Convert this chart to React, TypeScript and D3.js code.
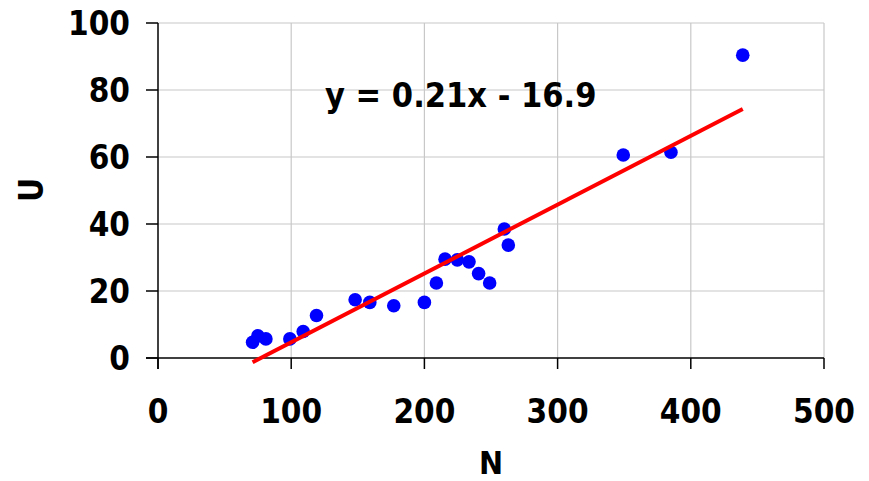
import React from 'react';
import * as d3 from 'd3';

const nValues = [71, 75, 81, 99, 109, 119, 148, 159, 177, 200, 209, 215.5, 224.7, 233.5, 240.7, 249, 260, 263, 349.3, 385.1, 439];
const uValues = [4.7, 6.6, 5.7, 5.7, 7.9, 12.7, 17.4, 16.6, 15.6, 16.6, 22.4, 29.5, 29.3, 28.7, 25.2, 22.4, 38.5, 33.7, 60.6, 61.4, 90.4];
const xTicks = [0, 100, 200, 300, 400, 500];
const yTicks = [0, 20, 40, 60, 80, 100];
const equation = 'y = 0.21x - 16.9';

const W = 869;
const H = 481;
const font = '"DejaVu Sans Condensed", "DejaVu Sans", sans-serif';

const App = () => {
    const x = d3.scaleLinear().domain([0, 500]).range([158, 824]);
    const y = d3.scaleLinear().domain([0, 100]).range([358, 23]);

    // least squares trend line
    const mx = d3.mean(nValues) as number;
    const my = d3.mean(uValues) as number;
    const sxy = d3.sum(nValues, (n, i) => (n - mx) * (uValues[i] - my));
    const sxx = d3.sum(nValues, (n) => (n - mx) * (n - mx));
    const slope = sxy / sxx;
    const icpt = my - slope * mx;
    const [n0, n1] = d3.extent(nValues) as [number, number];
    const line = d3.line<number>().x((n) => x(n)).y((n) => y(slope * n + icpt));

    return (
        <svg width={W} height={H} style={{ position: 'absolute', left: 0, top: 0 }}>
            <rect width={W} height={H} fill="#fff" />
            <g>
                {xTicks.slice(1).map((t) => (
                    <line key={'gx' + t} x1={x(t)} x2={x(t)} y1={y(0)} y2={y(100)} stroke="#c8c8c8" strokeWidth={1.2} />
                ))}
                {yTicks.slice(1).map((t) => (
                    <line key={'gy' + t} x1={x(0)} x2={x(500)} y1={y(t)} y2={y(t)} stroke="#c8c8c8" strokeWidth={1.2} />
                ))}
            </g>
            <line x1={x(0)} x2={x(0)} y1={y(100)} y2={y(0) + 11} stroke="#000" strokeWidth={1.5} />
            <line x1={x(0) - 12} x2={x(500)} y1={y(0)} y2={y(0)} stroke="#000" strokeWidth={1.5} />
            {yTicks.map((t) => (
                <g key={'ty' + t}>
                    <line x1={x(0) - 12} x2={x(0)} y1={y(t)} y2={y(t)} stroke="#000" strokeWidth={1.5} />
                    <text x={130} y={y(t)} dy="0.36em" textAnchor="end" fontFamily={font} fontWeight="bold" fontSize={33}>{t}</text>
                </g>
            ))}
            {xTicks.map((t) => (
                <g key={'tx' + t}>
                    <line x1={x(t)} x2={x(t)} y1={y(0)} y2={y(0) + 11} stroke="#000" strokeWidth={1.5} />
                    <text x={x(t)} y={423} textAnchor="middle" fontFamily={font} fontWeight="bold" fontSize={33}>{t}</text>
                </g>
            ))}
            {nValues.map((n, i) => (
                <circle key={'p' + i} cx={x(n)} cy={y(uValues[i])} r={6.8} fill="#0000ff" />
            ))}
            <path d={line([n0, n1]) as string} stroke="#ff0000" strokeWidth={4} fill="none" />
            <text x={325} y={107} fontFamily={font} fontWeight="bold" fontSize={34}>{equation}</text>
            <text x={x(250)} y={474} textAnchor="middle" fontFamily={font} fontWeight="bold" fontSize={32}>N</text>
            <text transform={`translate(43,190) rotate(-90)`} textAnchor="middle" fontFamily={font} fontWeight="bold" fontSize={33}>U</text>
        </svg>
    );
};

export default App;
